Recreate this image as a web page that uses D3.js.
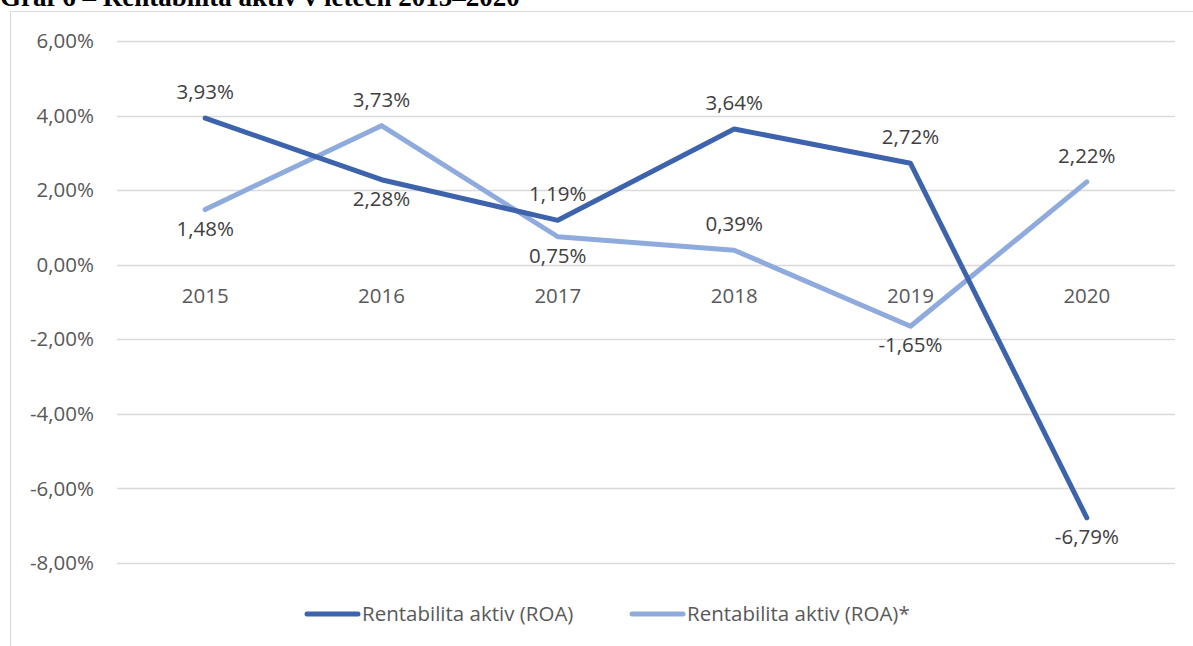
<!DOCTYPE html>
<html>
<head>
<meta charset="utf-8">
<script src="https://cdn.jsdelivr.net/npm/d3@7"></script>
<style>
  body { margin: 0; background: #fff; }
  text { font-family: "Open Sans", Lato, sans-serif; }
</style>
</head>
<body>
<div id="chart"></div>
<script>
// data
const roky = ["2015", "2016", "2017", "2018", "2019", "2020"];
const roa = [3.93, 2.28, 1.19, 3.64, 2.72, -6.79];
const roaHvezda = [1.48, 3.73, 0.75, 0.39, -1.65, 2.22];
const yTicks = [6, 4, 2, 0, -2, -4, -6, -8];
const nazvy = ["Rentabilita aktiv (ROA)", "Rentabilita aktiv (ROA)*"];
// kde je popisek: nad (-1) / pod (1) bodem
const poziceRoa = [-1, 1, -1, -1, -1, 1];
const poziceHvezda = [1, -1, 1, -1, 1, -1];

const W = 1193, H = 646;
const margin = { top: 41, right: 18, bottom: 83, left: 117 };
const width = W - margin.left - margin.right;
const fs = "20.5px";

const svg = d3.select("#chart").append("svg")
  .attr("width", W).attr("height", H);

// titulek (oříznutý nahoře)
svg.append("text")
  .attr("x", 0).attr("y", 6)
  .style("font-family", "'Liberation Serif', 'Times New Roman', serif")
  .style("font-weight", "bold")
  .style("font-size", "27px")
  .attr("fill", "#000")
  .text("Graf 6 – Rentabilita aktiv v letech 2015–2020");

// rámeček grafu
svg.append("rect")
  .attr("x", 10.5).attr("y", 11.5)
  .attr("width", W).attr("height", H)
  .attr("fill", "none").attr("stroke", "#d9d9d9").attr("stroke-width", 1);

const g = svg.append("g")
  .attr("transform", `translate(${margin.left},0)`);

const x = d3.scaleBand().domain(roky).range([0, width]);
const y = d3.scaleLinear().domain([-8, 6]).range([563, 41]);
const fmt = v => d3.format(".2f")(v).replace(".", ",").replace("−", "-") + "%";

// mřížka
g.selectAll(".grid").data(yTicks).join("line")
  .attr("class", "grid")
  .attr("x1", 0).attr("x2", width)
  .attr("y1", d => Math.round(y(d)) + 0.5).attr("y2", d => Math.round(y(d)) + 0.5)
  .attr("stroke", "#d9d9d9").attr("stroke-width", 1.3);

// osa y
g.selectAll(".ylab").data(yTicks).join("text")
  .attr("class", "ylab")
  .attr("x", -23).attr("y", d => y(d))
  .attr("dy", "0.35em")
  .attr("text-anchor", "end")
  .attr("fill", "#595959")
  .style("font-size", fs)
  .text(d => fmt(d));

// osa x (popisky pod nulou)
g.selectAll(".xlab").data(roky).join("text")
  .attr("class", "xlab")
  .attr("x", d => x(d) + x.bandwidth() / 2)
  .attr("y", y(0) + 38)
  .attr("text-anchor", "middle")
  .attr("fill", "#595959")
  .style("font-size", fs)
  .text(d => d);

const serie = [
  { name: nazvy[1], values: roaHvezda, color: "#8faadc", pos: poziceHvezda },
  { name: nazvy[0], values: roa, color: "#3d63ad", pos: poziceRoa }
];

const line = d3.line()
  .x((d, i) => x(roky[i]) + x.bandwidth() / 2)
  .y(d => y(d));

serie.forEach(s => {
  g.append("path")
    .datum(s.values)
    .attr("d", line)
    .attr("fill", "none")
    .attr("stroke", s.color)
    .attr("stroke-width", 5)
    .attr("stroke-linejoin", "round")
    .attr("stroke-linecap", "round");
});

serie.forEach(s => {
  g.selectAll(null).data(s.values).join("text")
    .attr("x", (d, i) => x(roky[i]) + x.bandwidth() / 2)
    .attr("y", (d, i) => y(d) + (s.pos[i] < 0 ? -19 : 26))
    .attr("text-anchor", "middle")
    .attr("fill", "#404040")
    .style("font-size", fs)
    .text(d => fmt(d));
});

// legenda
const leg = svg.append("g").attr("transform", "translate(0,614)");
const legX = [305, 630];
[serie[1], serie[0]].forEach((s, i) => {
  leg.append("line")
    .attr("x1", legX[i] + 2).attr("x2", legX[i] + 53)
    .attr("y1", 0).attr("y2", 0)
    .attr("stroke", s.color).attr("stroke-width", 5)
    .attr("stroke-linecap", "round");
  leg.append("text")
    .attr("x", legX[i] + 57).attr("y", 0)
    .attr("dy", "0.35em")
    .attr("fill", "#595959")
    .style("font-size", fs)
    .text(s.name);
});
</script>
</body>
</html>
